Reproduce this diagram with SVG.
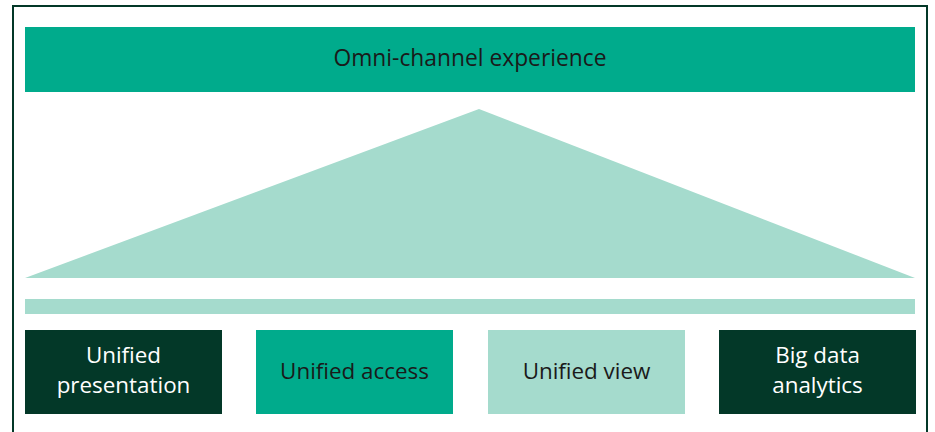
<svg xmlns="http://www.w3.org/2000/svg" width="935" height="432" viewBox="0 0 935 432">
<style>
text{font-family:"Open Sans","Noto Sans","Liberation Sans",sans-serif;font-size:22.4px;text-anchor:middle}
.dark{fill:#033828}
.teal{fill:#00AB8C}
.light{fill:#A5DBCD}
.tw{fill:#ffffff}
.td{fill:#1a1a1a}
</style>
<rect x="0" y="0" width="935" height="432" fill="#ffffff"/>
<rect x="13" y="6" width="914" height="440" fill="none" stroke="#033828" stroke-width="2"/>
<g id="banner">
<rect class="teal" x="25" y="27" width="890" height="65"/>
<text class="td" x="470" y="66" style="font-size:22.8px">Omni-channel experience</text>
</g>
<g id="roof">
<polygon class="light" points="25,278 479,109 915,278"/>
</g>
<g id="beam">
<rect class="light" x="25" y="299" width="890" height="15"/>
</g>
<g id="pillar1">
<rect class="dark" x="25" y="330" width="197" height="84"/>
<text class="tw" x="123.5" y="363">Unified</text>
<text class="tw" x="123.5" y="393">presentation</text>
</g>
<g id="pillar2">
<rect class="teal" x="256" y="330" width="197" height="84"/>
<text class="td" x="354.5" y="379">Unified access</text>
</g>
<g id="pillar3">
<rect class="light" x="488" y="330" width="197" height="84"/>
<text class="td" x="586.5" y="379">Unified view</text>
</g>
<g id="pillar4">
<rect class="dark" x="719" y="330" width="197" height="84"/>
<text class="tw" x="817.5" y="363">Big data</text>
<text class="tw" x="817.5" y="393">analytics</text>
</g>
<g id="connectors"></g>
</svg>
